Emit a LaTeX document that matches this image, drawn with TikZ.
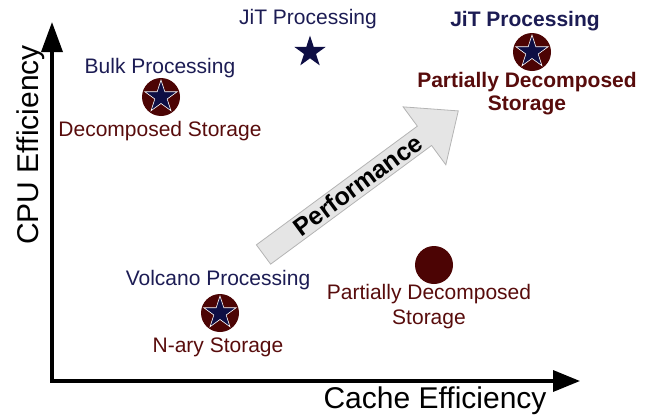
\documentclass[tikz,border=0pt]{standalone}
\usepackage{fontspec}
\setmainfont{Liberation Sans}
\usetikzlibrary{shapes.geometric,arrows.meta}

\definecolor{procnavy}{RGB}{28,28,84}
\definecolor{starnavy}{RGB}{14,14,68}
\definecolor{storered}{RGB}{88,12,12}
\definecolor{dotred}{RGB}{76,4,4}
\definecolor{perfgray}{RGB}{229,229,229}
\definecolor{perfedge}{RGB}{180,180,180}

\begin{document}
\begin{tikzpicture}[x=1pt, y=-1pt,
    proc/.style={font=\fontsize{21}{24}\selectfont, text=procnavy, anchor=base, inner sep=0pt, align=center},
    store/.style={font=\fontsize{21}{24}\selectfont, text=storered, anchor=base, inner sep=0pt, align=center},
    axislabel/.style={font=\fontsize{30}{36}\selectfont, anchor=base, inner sep=0pt},
    dot/.style={circle, fill=dotred, minimum size=38pt, inner sep=0pt},
    starmark/.style={star, star points=5, star point ratio=2.618, fill=starnavy, inner sep=0pt, minimum size=33pt},
    starin/.style={starmark, draw=white, line width=0.6pt, minimum size=34pt}]

   \useasboundingbox (0,0) rectangle (652,415);

   % axes
   \coordinate (ytop) at (52,22);
   \coordinate (origin) at (52,381);
   \coordinate (xend) at (580,381);
   \draw[line width=3.5pt, {Triangle[length=30pt,width=21pt]}-{Triangle[length=27pt,width=21pt]}] (ytop) -- (origin) -- (xend);
   \node[axislabel, rotate=90] (cpu) at (38,145) {CPU Efficiency};
   \node[axislabel] (cache) at (435,408) {Cache Efficiency};

   % performance arrow
   \begin{scope}[shift={(263.5,254.5)}, rotate=36.4]
    \draw[fill=perfgray, draw=perfedge, line width=0.8pt] (0,-12) -- (200,-12) -- (200,-36) -- (242,0) -- (200,36) -- (200,12) -- (0,12) -- cycle;
    \node[font=\bfseries\fontsize{25}{30}\selectfont, rotate=36.4] (perf) at (117,0) {Performance};
   \end{scope}

   % marks
   \node[dot] (bulkdot) at (161,97) {};
   \node[starin] (bulkstar) at (161,97) {};
   \node[dot] (volcdot) at (220,313) {};
   \node[starin] (volcstar) at (220,313) {};
   \node[dot] (jitdot) at (532,52) {};
   \node[starin] (jitstar) at (532,52) {};
   \node[starmark] (jitonly) at (310,52) {};
   \node[dot] (pdsmdot) at (434,265) {};

   % labels (two-line ones sit on their last line)
   \node[proc] (bulk) at (160,73) {Bulk Processing};
   \node[store] (dsm) at (160,136) {Decomposed Storage};
   \node[proc] (jit) at (308,24) {JiT Processing};
   \node[proc, font=\bfseries\fontsize{21}{24}\selectfont] (jitbold) at (525,26) {JiT Processing};
   \node[store, font=\bfseries\fontsize{21}{23}\selectfont] (pdsmbold) at (527,110) {Partially Decomposed\\Storage};
   \node[proc] (volcano) at (218,285) {Volcano Processing};
   \node[store] (nsm) at (218,352) {N-ary Storage};
   \node[store, font=\fontsize{21}{25}\selectfont] (pdsm) at (429,324) {Partially Decomposed\\Storage};
\end{tikzpicture}
\end{document}
